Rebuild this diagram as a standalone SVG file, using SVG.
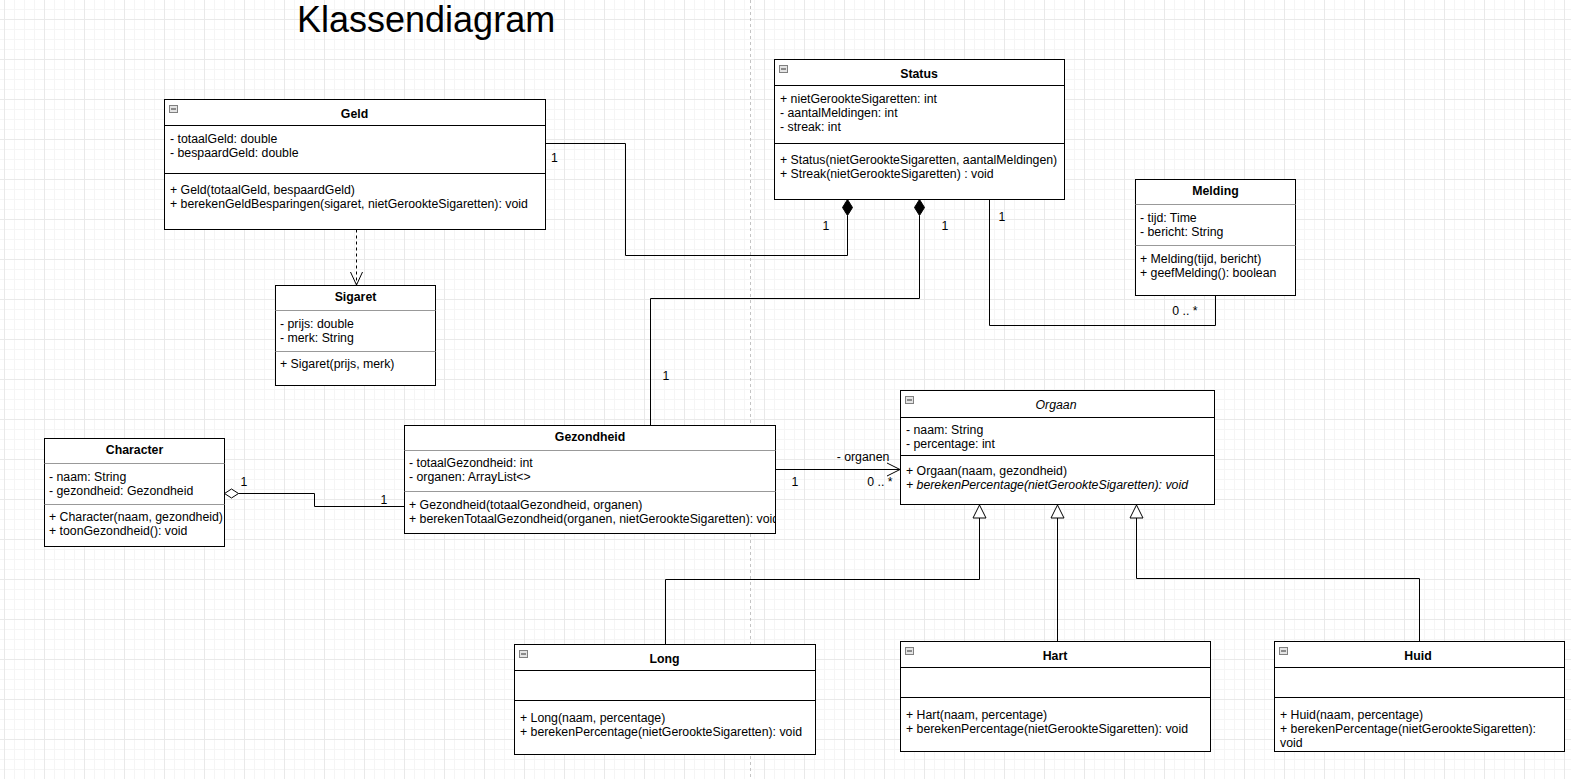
<svg xmlns="http://www.w3.org/2000/svg" width="1571" height="779" viewBox="0 0 1571 779">
<style>
.box{fill:#fff;stroke:#000;stroke-width:1}
.sep{stroke:#000;stroke-width:1}
.sepg{stroke:#999;stroke-width:1}
.t{font-family:"Liberation Sans",Arial,sans-serif;font-size:12.3px;fill:#000}
.ti{font-weight:bold;text-anchor:middle}
.m{text-anchor:middle}
.conn{fill:none;stroke:#000;stroke-width:1}
.ico{fill:#e4e4e4;stroke:#808080;stroke-width:1}
.icm{stroke:#333;stroke-width:1}
</style>
<defs>
<pattern id="grid" x="4" y="19" width="40" height="40" patternUnits="userSpaceOnUse">
<path d="M10.5 0V40M20.5 0V40M30.5 0V40M0 10.5H40M0 20.5H40M0 30.5H40" stroke="#f5f5f5" stroke-width="1"/>
<path d="M0.5 0V40M0 0.5H40" stroke="#e9e9e9" stroke-width="1"/>
</pattern>
<clipPath id="gezClip"><rect x="405" y="426" width="370" height="107"/></clipPath>
</defs>
<rect x="0" y="0" width="1571" height="779" fill="#fff"/>
<rect x="0" y="0" width="1571" height="779" fill="url(#grid)"/>
<line x1="750.5" y1="0" x2="750.5" y2="779" stroke="#c4c4c4" stroke-dasharray="3,3"/>

<text x="297" y="32" style="font-family:'Liberation Sans',Arial,sans-serif;font-size:36px;fill:#000">Klassendiagram</text>

<g id="connectors">
<path class="conn" d="M545.5 143.5H625.5V255.5H847.5V215.5"/>
<path d="M847.5 199.5L852.5 207.5L847.5 215.5L842.5 207.5Z" fill="#000" stroke="#000"/>
<path class="conn" d="M650.5 425.5V298.5H919.5V215.5"/>
<path d="M919.5 199.5L924.5 207.5L919.5 215.5L914.5 207.5Z" fill="#000" stroke="#000"/>
<path class="conn" d="M989.5 199.5V325.5H1215.5V295.5"/>
<path class="conn" d="M356.5 229.5V285" stroke-dasharray="3,3"/>
<path class="conn" d="M350.5 272L356.5 285L362.5 272"/>
<path d="M224.5 493.5L231.5 489L238.5 493.5L231.5 498Z" fill="#fff" stroke="#000"/>
<path class="conn" d="M238.5 493.5H314.5V506.5H404.5"/>
<path class="conn" d="M775.5 469.5H900"/>
<path class="conn" d="M887 463L900 469.5L887 476"/>
<path class="conn" d="M979.5 518V579.5H665.5V644.5"/>
<path class="conn" d="M1057.5 518V641.5"/>
<path class="conn" d="M1136.5 518V578.5H1419.5V641.5"/>
<path d="M979.5 505L986 518H973Z" fill="#fff" stroke="#000"/>
<path d="M1057.5 505L1064 518H1051Z" fill="#fff" stroke="#000"/>
<path d="M1136.5 505L1143 518H1130Z" fill="#fff" stroke="#000"/>
<text class="t" x="551" y="162">1</text>
<text class="t m" x="826" y="230">1</text>
<text class="t m" x="945" y="230">1</text>
<text class="t m" x="1002" y="221">1</text>
<text class="t m" x="1185" y="315">0 .. *</text>
<text class="t m" x="666" y="380">1</text>
<text class="t m" x="244" y="486">1</text>
<text class="t m" x="384" y="504">1</text>
<text class="t m" x="863" y="461">- organen</text>
<text class="t m" x="795" y="486">1</text>
<text class="t m" x="880" y="486">0 .. *</text>
</g>

<g id="geld">
<rect class="box" x="164.5" y="99.5" width="381" height="130"/>
<line class="sep" x1="164.5" y1="125.5" x2="545.5" y2="125.5"/>
<line class="sep" x1="164.5" y1="173.5" x2="545.5" y2="173.5"/>
<rect class="ico" x="169.5" y="105.5" width="8" height="7"/><line class="icm" x1="171" y1="109" x2="176" y2="109"/>
<text class="t ti" x="354.5" y="118">Geld</text>
<text class="t" x="170" y="143">- totaalGeld: double</text>
<text class="t" x="170" y="157">- bespaardGeld: double</text>
<text class="t" x="170" y="194">+ Geld(totaalGeld, bespaardGeld)</text>
<text class="t" x="170" y="208">+ berekenGeldBesparingen(sigaret, nietGerookteSigaretten): void</text>
</g>

<g id="status">
<rect class="box" x="774.5" y="59.5" width="290" height="140"/>
<line class="sep" x1="774.5" y1="85.5" x2="1064.5" y2="85.5"/>
<line class="sep" x1="774.5" y1="143.5" x2="1064.5" y2="143.5"/>
<rect class="ico" x="779.5" y="65.5" width="8" height="7"/><line class="icm" x1="781" y1="69" x2="786" y2="69"/>
<text class="t ti" x="919" y="78">Status</text>
<text class="t" x="780" y="103">+ nietGerookteSigaretten: int</text>
<text class="t" x="780" y="117">- aantalMeldingen: int</text>
<text class="t" x="780" y="131">- streak: int</text>
<text class="t" x="780" y="164">+ Status(nietGerookteSigaretten, aantalMeldingen)</text>
<text class="t" x="780" y="178">+ Streak(nietGerookteSigaretten) : void</text>
</g>

<g id="melding">
<rect class="box" x="1135.5" y="179.5" width="160" height="116"/>
<line class="sepg" x1="1135.5" y1="204.5" x2="1295.5" y2="204.5"/>
<line class="sepg" x1="1135.5" y1="245.5" x2="1295.5" y2="245.5"/>
<text class="t ti" x="1215.5" y="195">Melding</text>
<text class="t" x="1140" y="222">- tijd: Time</text>
<text class="t" x="1140" y="236">- bericht: String</text>
<text class="t" x="1140" y="263">+ Melding(tijd, bericht)</text>
<text class="t" x="1140" y="277">+ geefMelding(): boolean</text>
</g>

<g id="sigaret">
<rect class="box" x="275.5" y="285.5" width="160" height="100"/>
<line class="sepg" x1="275.5" y1="310.5" x2="435.5" y2="310.5"/>
<line class="sepg" x1="275.5" y1="351.5" x2="435.5" y2="351.5"/>
<text class="t ti" x="355.5" y="301">Sigaret</text>
<text class="t" x="280" y="328">- prijs: double</text>
<text class="t" x="280" y="342">- merk: String</text>
<text class="t" x="280" y="368">+ Sigaret(prijs, merk)</text>
</g>

<g id="character">
<rect class="box" x="44.5" y="438.5" width="180" height="108"/>
<line class="sepg" x1="44.5" y1="463.5" x2="224.5" y2="463.5"/>
<line class="sepg" x1="44.5" y1="504.5" x2="224.5" y2="504.5"/>
<text class="t ti" x="134.5" y="454">Character</text>
<text class="t" x="49" y="481">- naam: String</text>
<text class="t" x="49" y="495">- gezondheid: Gezondheid</text>
<text class="t" x="49" y="521">+ Character(naam, gezondheid)</text>
<text class="t" x="49" y="535">+ toonGezondheid(): void</text>
</g>

<g id="gezondheid">
<rect class="box" x="404.5" y="425.5" width="371" height="108"/>
<line class="sepg" x1="404.5" y1="450.5" x2="775.5" y2="450.5"/>
<line class="sepg" x1="404.5" y1="491.5" x2="775.5" y2="491.5"/>
<text class="t ti" x="590" y="441">Gezondheid</text>
<text class="t" x="409" y="467">- totaalGezondheid: int</text>
<text class="t" x="409" y="481">- organen: ArrayList&lt;&gt;</text>
<text class="t" x="409" y="509">+ Gezondheid(totaalGezondheid, organen)</text>
<text class="t" x="409" y="523" clip-path="url(#gezClip)">+ berekenTotaalGezondheid(organen, nietGerookteSigaretten): void</text>
</g>

<g id="orgaan">
<rect class="box" x="900.5" y="390.5" width="314" height="114"/>
<line class="sep" x1="900.5" y1="417.5" x2="1214.5" y2="417.5"/>
<line class="sep" x1="900.5" y1="455.5" x2="1214.5" y2="455.5"/>
<rect class="ico" x="905.5" y="396.5" width="8" height="7"/><line class="icm" x1="907" y1="400" x2="912" y2="400"/>
<text class="t m" x="1056" y="409" font-style="italic">Orgaan</text>
<text class="t" x="906" y="434">- naam: String</text>
<text class="t" x="906" y="448">- percentage: int</text>
<text class="t" x="906" y="475">+ Orgaan(naam, gezondheid)</text>
<text class="t" x="906" y="489" font-style="italic">+ berekenPercentage(nietGerookteSigaretten): void</text>
</g>

<g id="long">
<rect class="box" x="514.5" y="644.5" width="301" height="110"/>
<line class="sep" x1="514.5" y1="670.5" x2="815.5" y2="670.5"/>
<line class="sep" x1="514.5" y1="700.5" x2="815.5" y2="700.5"/>
<rect class="ico" x="519.5" y="650.5" width="8" height="7"/><line class="icm" x1="521" y1="654" x2="526" y2="654"/>
<text class="t ti" x="664.5" y="663">Long</text>
<text class="t" x="520" y="722">+ Long(naam, percentage)</text>
<text class="t" x="520" y="736">+ berekenPercentage(nietGerookteSigaretten): void</text>
</g>

<g id="hart">
<rect class="box" x="900.5" y="641.5" width="310" height="110"/>
<line class="sep" x1="900.5" y1="667.5" x2="1210.5" y2="667.5"/>
<line class="sep" x1="900.5" y1="697.5" x2="1210.5" y2="697.5"/>
<rect class="ico" x="905.5" y="647.5" width="8" height="7"/><line class="icm" x1="907" y1="651" x2="912" y2="651"/>
<text class="t ti" x="1055" y="660">Hart</text>
<text class="t" x="906" y="719">+ Hart(naam, percentage)</text>
<text class="t" x="906" y="733">+ berekenPercentage(nietGerookteSigaretten): void</text>
</g>

<g id="huid">
<rect class="box" x="1274.5" y="641.5" width="290" height="110"/>
<line class="sep" x1="1274.5" y1="667.5" x2="1564.5" y2="667.5"/>
<line class="sep" x1="1274.5" y1="697.5" x2="1564.5" y2="697.5"/>
<rect class="ico" x="1279.5" y="647.5" width="8" height="7"/><line class="icm" x1="1281" y1="651" x2="1286" y2="651"/>
<text class="t ti" x="1418" y="660">Huid</text>
<text class="t" x="1280" y="719">+ Huid(naam, percentage)</text>
<text class="t" x="1280" y="733">+ berekenPercentage(nietGerookteSigaretten):</text>
<text class="t" x="1280" y="747">void</text>
</g>
</svg>
